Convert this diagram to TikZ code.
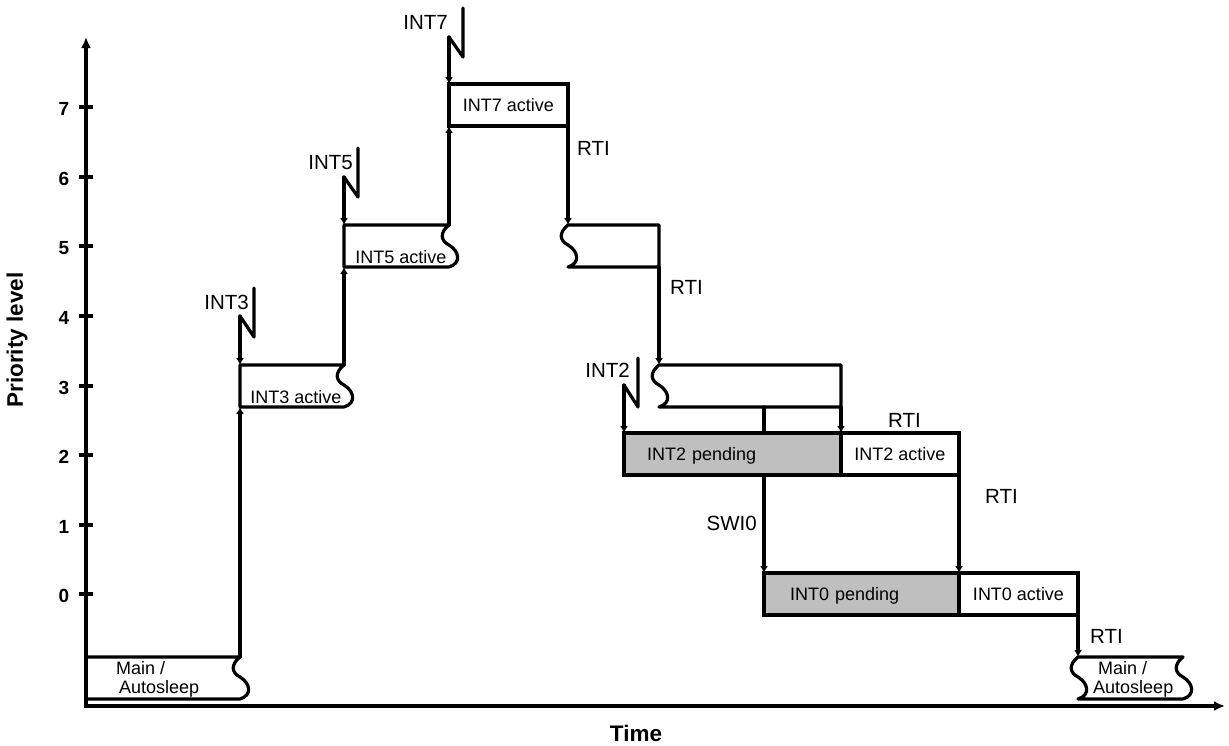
\documentclass[tikz,border=0pt]{standalone}
\usepackage{fontspec}
\setmainfont{Liberation Sans}
\usetikzlibrary{arrows.meta}

\tikzset{
    box/.style={line width=3.2pt, line join=round, line cap=round},
    wave/.style 2 args={insert path={.. controls (#1-10,#2+8) and (#1-8,#2+16) .. (#1,#2+20) .. controls (#1+10,#2+26) and (#1+13,#2+38) .. (#1,#2+42)}},
    pulse/.style={box, -{Latex[length=7pt,width=8pt]}},
    axis/.style={line width=3.4pt, {Latex[length=11pt,width=10pt]}-{Latex[length=11pt,width=10pt]}},
    tickmark/.style={line width=3.4pt},
    rect/.style={draw, line width=3.2pt, minimum height=42pt, inner sep=0pt, outer sep=0pt, text depth=0pt, font=\fontsize{18}{20}\selectfont},
    pend/.style={fill=black!25},
    lbl/.style={font=\fontsize{20.5}{24}\selectfont, inner sep=0pt},
    txt/.style={font=\fontsize{18}{19}\selectfont, inner sep=0pt, align=left},
    num/.style={font=\fontsize{19}{20}\selectfont\bfseries, inner sep=0pt, anchor=east, xshift=-8pt, yshift=-2pt},
    title/.style={font=\fontsize{22.5}{24}\selectfont\bfseries, inner sep=0pt}
}

\begin{document}
\begin{tikzpicture}[x=1pt, y=-1pt]
    \useasboundingbox (0,0) rectangle (1229,745);
    \coordinate (origin) at (86,706);
    \coordinate (ytip) at (86,37);
    \coordinate (xtip) at (1225,706);
    \draw[axis] (ytip) -- (origin) -- (xtip);
    \draw[tickmark] (93,107) -- (79,107) node[num] (lev7) {7};
    \draw[tickmark] (93,177) -- (79,177) node[num] (lev6) {6};
    \draw[tickmark] (93,246) -- (79,246) node[num] (lev5) {5};
    \draw[tickmark] (93,316) -- (79,316) node[num] (lev4) {4};
    \draw[tickmark] (93,386) -- (79,386) node[num] (lev3) {3};
    \draw[tickmark] (93,455) -- (79,455) node[num] (lev2) {2};
    \draw[tickmark] (93,525) -- (79,525) node[num] (lev1) {1};
    \draw[tickmark] (93,594) -- (79,594) node[num] (lev0) {0};
    \node[title, rotate=90] (ylabel) at (17,340) {Priority level};
    \node[title] (xlabel) at (636,733) {Time};

    \draw[box] (86,657) -- (240,657) coordinate (main1out) [wave={240}{657}] -- (86,699);
    \node[txt, anchor=west] (main1) at (116,679) {Main /\\\hspace*{3pt}Autosleep};

    \draw[box] (344,407) -- (240,407) coordinate (int3low) -- (240,365) coordinate (int3high) -- (344,365) coordinate (int3exit) [wave={344}{365}];
    \node[txt] (int3act) at (296,397) {INT3 active};
    \draw[pulse] (main1out) -- (int3low);
    \draw[box] (240,316) coordinate (int3irq) -- ++(14,21) -- ++(0,-49);
    \draw[pulse] (int3irq) -- (int3high);
    \node[lbl, anchor=east] (int3lbl) at (249,302) {INT3};

    \draw[box] (449,267) -- (344,267) coordinate (int5low) -- (344,225) coordinate (int5high) -- (449,225) coordinate (int5exit) [wave={449}{225}];
    \node[txt] (int5act) at (401,257) {INT5 active};
    \draw[pulse] (int3exit) -- (int5low);
    \draw[box] (344,177) coordinate (int5irq) -- ++(14,20) -- ++(0,-49);
    \draw[pulse] (int5irq) -- (int5high);
    \node[lbl, anchor=east] (int5lbl) at (353,163) {INT5};

    \node[rect, minimum width=119pt] (int7act) at (508.5,105) {INT7 active};
    \draw[pulse] (int5exit) -- (int7act.south west);
    \draw[box] (449,37) coordinate (int7irq) -- ++(14,20) -- ++(0,-49);
    \draw[pulse] (int7irq) -- (int7act.north west);
    \node[lbl, anchor=east] (int7lbl) at (448,22) {INT7};

    \draw[box] (659,267) coordinate (int5done) -- (659,225) -- (568,225) coordinate (int5back) [wave={568}{225}] -- (659,267);
    \draw[pulse] (int7act.south east) -- (int5back);
    \node[lbl, anchor=west] (rti1) at (577,148) {RTI};

    \draw[box] (841,407) coordinate (int3done) -- (841,365) -- (659,365) coordinate (int3back) [wave={659}{365}] -- (841,407);
    \draw[pulse] (int5done) -- (int3back);
    \node[lbl, anchor=west] (rti2) at (670,287) {RTI};
    \coordinate (int3tap) at (764,407);

    \node[rect, pend, minimum width=217pt, text width=171pt] (int2pend) at (732.5,454) {INT2 pending};
    \node[rect, minimum width=118pt] (int2act) at (900,454) {INT2 active};
    \draw[box] (624,385) coordinate (int2irq) -- ++(14,22) -- ++(0,-49);
    \draw[pulse] (int2irq) -- (int2pend.north west);
    \node[lbl, anchor=east] (int2lbl) at (630,370) {INT2};
    \draw[box] (int3tap) -- (int3tap |- int2pend.north);
    \draw[pulse] (int3done) -- (int2act.north west);
    \node[lbl, anchor=west] (rti3) at (888,420) {RTI};

    \node[rect, pend, minimum width=195pt, text width=143pt] (int0pend) at (861.5,594) {INT0 pending};
    \node[rect, minimum width=119pt] (int0act) at (1018.5,594) {INT0 active};
    \draw[pulse] (int0pend.north west |- int2pend.south) -- (int0pend.north west);
    \node[lbl, anchor=east] (swi0) at (757,523) {SWI0};
    \draw[pulse] (int2act.south east) -- (int0act.north west);
    \node[lbl, anchor=west] (rti4) at (985,496) {RTI};

    \draw[box] (1078,699) -- (1183,699) (1078,657) coordinate (main2in) [wave={1078}{657}] (1078,657) -- (1183,657) [wave={1183}{657}];
    \draw[pulse] (int0act.south east) -- (main2in);
    \node[lbl, anchor=west] (rti5) at (1090,636) {RTI};
    \node[txt, anchor=west] (main2) at (1093,679) {\hspace*{5pt}Main /\\Autosleep};
\end{tikzpicture}
\end{document}
